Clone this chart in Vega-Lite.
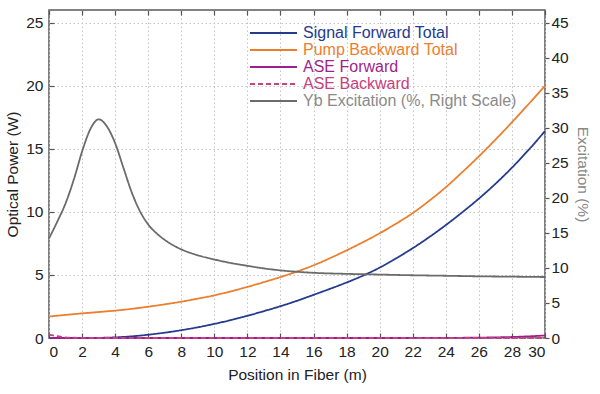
{
  "$schema": "https://vega.github.io/schema/vega-lite/v6.json",
  "width": 496,
  "height": 328,
  "autosize": "none",
  "padding": {"left": 49, "top": 10, "right": 55, "bottom": 56},
  "background": "white",
  "config": {
    "font": "Liberation Sans",
    "view": {"stroke": "#5a5a5a", "strokeWidth": 1.5},
    "axis": {
      "labelFont": "Liberation Sans", "labelFontSize": 15.5, "labelColor": "#222",
      "titleFont": "Liberation Sans", "titleFontSize": 15.5, "titleFontWeight": "normal", "titleColor": "#222",
      "domain": false, "tickColor": "#555", "tickWidth": 1.2,
      "gridColor": "#c4c4c4", "gridDash": [1.5, 2.5], "gridWidth": 1
    }
  },
  "datasets": {
    "power": [
      {"position": 0, "series": "Signal Forward Total", "value": 0.0},
      {"position": 1, "series": "Signal Forward Total", "value": 0.0},
      {"position": 2, "series": "Signal Forward Total", "value": 0.0},
      {"position": 3, "series": "Signal Forward Total", "value": 0.01},
      {"position": 4, "series": "Signal Forward Total", "value": 0.05},
      {"position": 5, "series": "Signal Forward Total", "value": 0.13},
      {"position": 6, "series": "Signal Forward Total", "value": 0.26},
      {"position": 7, "series": "Signal Forward Total", "value": 0.42},
      {"position": 8, "series": "Signal Forward Total", "value": 0.62},
      {"position": 9, "series": "Signal Forward Total", "value": 0.85},
      {"position": 10, "series": "Signal Forward Total", "value": 1.12},
      {"position": 11, "series": "Signal Forward Total", "value": 1.42},
      {"position": 12, "series": "Signal Forward Total", "value": 1.76},
      {"position": 13, "series": "Signal Forward Total", "value": 2.13},
      {"position": 14, "series": "Signal Forward Total", "value": 2.52},
      {"position": 15, "series": "Signal Forward Total", "value": 2.95},
      {"position": 16, "series": "Signal Forward Total", "value": 3.42},
      {"position": 17, "series": "Signal Forward Total", "value": 3.9},
      {"position": 18, "series": "Signal Forward Total", "value": 4.4},
      {"position": 19, "series": "Signal Forward Total", "value": 4.95},
      {"position": 20, "series": "Signal Forward Total", "value": 5.58},
      {"position": 21, "series": "Signal Forward Total", "value": 6.32},
      {"position": 22, "series": "Signal Forward Total", "value": 7.12},
      {"position": 23, "series": "Signal Forward Total", "value": 8.0},
      {"position": 24, "series": "Signal Forward Total", "value": 8.95},
      {"position": 25, "series": "Signal Forward Total", "value": 9.97},
      {"position": 26, "series": "Signal Forward Total", "value": 11.05},
      {"position": 27, "series": "Signal Forward Total", "value": 12.22},
      {"position": 28, "series": "Signal Forward Total", "value": 13.5},
      {"position": 29, "series": "Signal Forward Total", "value": 14.9},
      {"position": 30, "series": "Signal Forward Total", "value": 16.4},
      {"position": 0, "series": "Pump Backward Total", "value": 1.7},
      {"position": 1, "series": "Pump Backward Total", "value": 1.83},
      {"position": 2, "series": "Pump Backward Total", "value": 1.95},
      {"position": 3, "series": "Pump Backward Total", "value": 2.06},
      {"position": 4, "series": "Pump Backward Total", "value": 2.17},
      {"position": 5, "series": "Pump Backward Total", "value": 2.31},
      {"position": 6, "series": "Pump Backward Total", "value": 2.48},
      {"position": 7, "series": "Pump Backward Total", "value": 2.67},
      {"position": 8, "series": "Pump Backward Total", "value": 2.88},
      {"position": 9, "series": "Pump Backward Total", "value": 3.12},
      {"position": 10, "series": "Pump Backward Total", "value": 3.38},
      {"position": 11, "series": "Pump Backward Total", "value": 3.7},
      {"position": 12, "series": "Pump Backward Total", "value": 4.05},
      {"position": 13, "series": "Pump Backward Total", "value": 4.43},
      {"position": 14, "series": "Pump Backward Total", "value": 4.83},
      {"position": 15, "series": "Pump Backward Total", "value": 5.27},
      {"position": 16, "series": "Pump Backward Total", "value": 5.76},
      {"position": 17, "series": "Pump Backward Total", "value": 6.33},
      {"position": 18, "series": "Pump Backward Total", "value": 6.95},
      {"position": 19, "series": "Pump Backward Total", "value": 7.6},
      {"position": 20, "series": "Pump Backward Total", "value": 8.3},
      {"position": 21, "series": "Pump Backward Total", "value": 9.07},
      {"position": 22, "series": "Pump Backward Total", "value": 9.9},
      {"position": 23, "series": "Pump Backward Total", "value": 10.88},
      {"position": 24, "series": "Pump Backward Total", "value": 11.95},
      {"position": 25, "series": "Pump Backward Total", "value": 13.15},
      {"position": 26, "series": "Pump Backward Total", "value": 14.4},
      {"position": 27, "series": "Pump Backward Total", "value": 15.72},
      {"position": 28, "series": "Pump Backward Total", "value": 17.1},
      {"position": 29, "series": "Pump Backward Total", "value": 18.53},
      {"position": 30, "series": "Pump Backward Total", "value": 20.0},
      {"position": 0, "series": "ASE Forward", "value": 0.0},
      {"position": 10, "series": "ASE Forward", "value": 0.0},
      {"position": 20, "series": "ASE Forward", "value": 0.0},
      {"position": 24, "series": "ASE Forward", "value": 0.01},
      {"position": 26, "series": "ASE Forward", "value": 0.03},
      {"position": 27, "series": "ASE Forward", "value": 0.05},
      {"position": 28, "series": "ASE Forward", "value": 0.08},
      {"position": 29, "series": "ASE Forward", "value": 0.13},
      {"position": 30, "series": "ASE Forward", "value": 0.2},
      {"position": 0, "series": "ASE Backward", "value": 0.25},
      {"position": 0.25, "series": "ASE Backward", "value": 0.2},
      {"position": 0.5, "series": "ASE Backward", "value": 0.14},
      {"position": 0.75, "series": "ASE Backward", "value": 0.09},
      {"position": 1, "series": "ASE Backward", "value": 0.05},
      {"position": 1.5, "series": "ASE Backward", "value": 0.02},
      {"position": 2, "series": "ASE Backward", "value": 0.01},
      {"position": 3, "series": "ASE Backward", "value": 0.0},
      {"position": 10, "series": "ASE Backward", "value": 0.0},
      {"position": 20, "series": "ASE Backward", "value": 0.0},
      {"position": 30, "series": "ASE Backward", "value": 0.0}
    ],
    "excitation": [
      {"position": 0, "series": "Yb Excitation (%, Right Scale)", "value": 14.2},
      {"position": 0.5, "series": "Yb Excitation (%, Right Scale)", "value": 16.6},
      {"position": 1, "series": "Yb Excitation (%, Right Scale)", "value": 19.2},
      {"position": 1.5, "series": "Yb Excitation (%, Right Scale)", "value": 22.6},
      {"position": 2, "series": "Yb Excitation (%, Right Scale)", "value": 26.6},
      {"position": 2.5, "series": "Yb Excitation (%, Right Scale)", "value": 29.8},
      {"position": 3, "series": "Yb Excitation (%, Right Scale)", "value": 31.2},
      {"position": 3.5, "series": "Yb Excitation (%, Right Scale)", "value": 30.2},
      {"position": 4, "series": "Yb Excitation (%, Right Scale)", "value": 27.8},
      {"position": 4.5, "series": "Yb Excitation (%, Right Scale)", "value": 24.3},
      {"position": 5, "series": "Yb Excitation (%, Right Scale)", "value": 20.8},
      {"position": 5.5, "series": "Yb Excitation (%, Right Scale)", "value": 18.1},
      {"position": 6, "series": "Yb Excitation (%, Right Scale)", "value": 16.2},
      {"position": 6.5, "series": "Yb Excitation (%, Right Scale)", "value": 14.95},
      {"position": 7, "series": "Yb Excitation (%, Right Scale)", "value": 14.0},
      {"position": 7.5, "series": "Yb Excitation (%, Right Scale)", "value": 13.25},
      {"position": 8, "series": "Yb Excitation (%, Right Scale)", "value": 12.65},
      {"position": 9, "series": "Yb Excitation (%, Right Scale)", "value": 11.8},
      {"position": 10, "series": "Yb Excitation (%, Right Scale)", "value": 11.2},
      {"position": 11, "series": "Yb Excitation (%, Right Scale)", "value": 10.7},
      {"position": 12, "series": "Yb Excitation (%, Right Scale)", "value": 10.3},
      {"position": 13, "series": "Yb Excitation (%, Right Scale)", "value": 9.93},
      {"position": 14, "series": "Yb Excitation (%, Right Scale)", "value": 9.65},
      {"position": 15, "series": "Yb Excitation (%, Right Scale)", "value": 9.45},
      {"position": 16, "series": "Yb Excitation (%, Right Scale)", "value": 9.3},
      {"position": 18, "series": "Yb Excitation (%, Right Scale)", "value": 9.15},
      {"position": 20, "series": "Yb Excitation (%, Right Scale)", "value": 9.05},
      {"position": 22, "series": "Yb Excitation (%, Right Scale)", "value": 8.95},
      {"position": 24, "series": "Yb Excitation (%, Right Scale)", "value": 8.88},
      {"position": 26, "series": "Yb Excitation (%, Right Scale)", "value": 8.8},
      {"position": 28, "series": "Yb Excitation (%, Right Scale)", "value": 8.75},
      {"position": 30, "series": "Yb Excitation (%, Right Scale)", "value": 8.7}
    ]
  },
  "layer": [
    {
      "data": {"name": "power"},
      "mark": {"type": "line", "strokeWidth": 1.8, "interpolate": "monotone"},
      "encoding": {
        "x": {
          "field": "position", "type": "quantitative",
          "scale": {"domain": [0, 30], "nice": false},
          "axis": {"orient": "bottom", "values": [0, 2, 4, 6, 8, 10, 12, 14, 16, 18, 20, 22, 24, 26, 28, 30], "title": "Position in Fiber (m)", "tickSize": -5, "labelPadding": 11, "titlePadding": 8, "grid": true}
        },
        "y": {
          "field": "value", "type": "quantitative",
          "scale": {"domain": [0, 26], "nice": false},
          "axis": {"orient": "left", "values": [0, 5, 10, 15, 20, 25], "title": "Optical Power (W)", "tickSize": -5, "labelPadding": 11, "titlePadding": 5, "grid": true}
        },
        "color": {
          "field": "series", "type": "nominal",
          "scale": {
            "domain": ["Signal Forward Total", "Pump Backward Total", "ASE Forward", "ASE Backward", "Yb Excitation (%, Right Scale)"],
            "range": ["#253b8e", "#ec7f2d", "#9e1f8e", "#c8407e", "#6b6b6b"]
          },
          "legend": {
            "title": null, "orient": "none", "legendX": 200, "legendY": 14.5, "padding": 0,
            "symbolType": "M-1,0H5.27", "symbolSize": 225, "symbolStrokeWidth": 2,
            "labelOffset": 37, "labelFont": "Liberation Sans", "labelFontSize": 16, "labelLimit": 400, "rowPadding": 0,
            "encode": {"labels": {"update": {"fill": {"signal": "datum.value === 'Yb Excitation (%, Right Scale)' ? '#8a8a8a' : scale('color', datum.value)"}}}}
          }
        },
        "strokeDash": {
          "field": "series", "type": "nominal",
          "scale": {
            "domain": ["Signal Forward Total", "Pump Backward Total", "ASE Forward", "ASE Backward", "Yb Excitation (%, Right Scale)"],
            "range": [[1, 0], [1, 0], [1, 0], [5, 3], [1, 0]]
          },
          "legend": {
            "title": null, "orient": "none", "legendX": 200, "legendY": 14.5, "padding": 0,
            "symbolType": "M-1,0H5.27", "symbolSize": 225, "symbolStrokeWidth": 2,
            "labelOffset": 37, "labelFont": "Liberation Sans", "labelFontSize": 16, "labelLimit": 400, "rowPadding": 0,
            "encode": {"labels": {"update": {"fill": {"signal": "datum.value === 'Yb Excitation (%, Right Scale)' ? '#8a8a8a' : scale('color', datum.value)"}}}}
          }
        }
      }
    },
    {
      "data": {"name": "excitation"},
      "mark": {"type": "line", "strokeWidth": 1.8, "interpolate": "monotone"},
      "encoding": {
        "x": {
          "field": "position", "type": "quantitative",
          "scale": {"domain": [0, 30], "nice": false},
          "axis": {"orient": "top", "values": [0, 2, 4, 6, 8, 10, 12, 14, 16, 18, 20, 22, 24, 26, 28, 30], "title": null, "labels": false, "tickSize": -5, "grid": false}
        },
        "y": {
          "field": "value", "type": "quantitative",
          "scale": {"domain": [0, 46.8], "nice": false},
          "axis": {"orient": "right", "values": [0, 5, 10, 15, 20, 25, 30, 35, 40, 45], "title": "Excitation (%)", "titleColor": "#888", "tickSize": 4, "labelPadding": 2, "titlePadding": 6, "grid": false}
        },
        "color": {
          "field": "series", "type": "nominal",
          "scale": {
            "domain": ["Signal Forward Total", "Pump Backward Total", "ASE Forward", "ASE Backward", "Yb Excitation (%, Right Scale)"],
            "range": ["#253b8e", "#ec7f2d", "#9e1f8e", "#c8407e", "#6b6b6b"]
          }
        },
        "strokeDash": {
          "field": "series", "type": "nominal",
          "scale": {
            "domain": ["Signal Forward Total", "Pump Backward Total", "ASE Forward", "ASE Backward", "Yb Excitation (%, Right Scale)"],
            "range": [[1, 0], [1, 0], [1, 0], [5, 3], [1, 0]]
          }
        }
      }
    }
  ],
  "resolve": {"scale": {"y": "independent"}, "axis": {"x": "independent"}}
}
